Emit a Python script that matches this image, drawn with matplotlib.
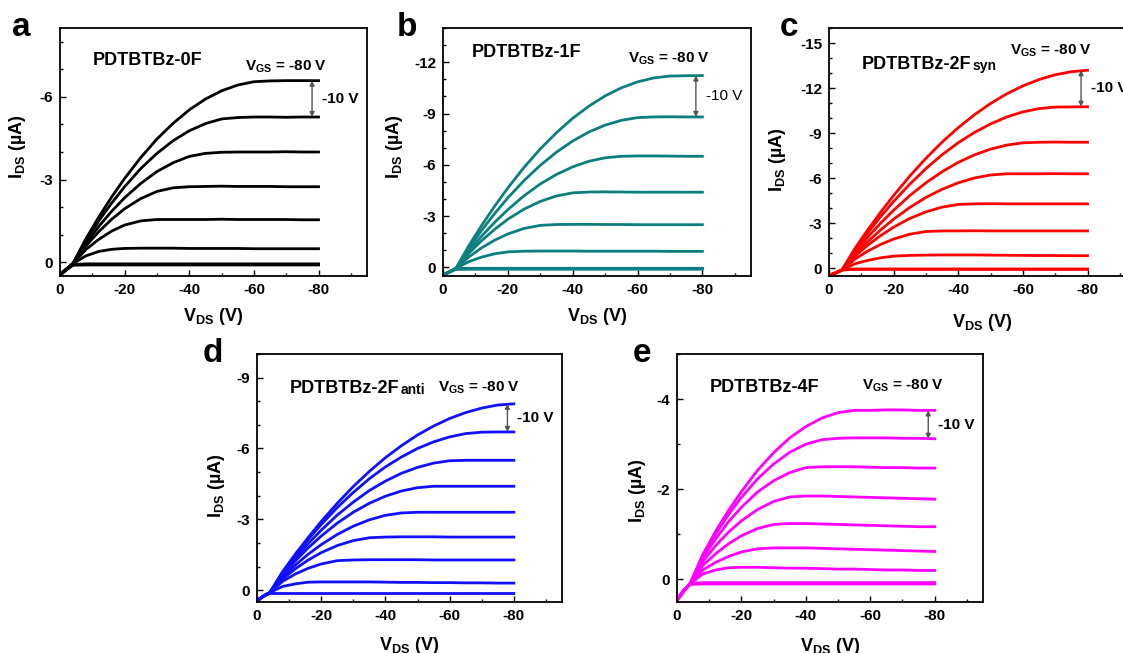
import matplotlib
matplotlib.use("Agg")
import matplotlib.pyplot as plt
from matplotlib.ticker import MultipleLocator

plt.rcParams["font.family"] = ["Liberation Sans", "DejaVu Sans"]
plt.rcParams["font.weight"] = "bold"
plt.rcParams["axes.labelweight"] = "bold"
plt.rcParams["axes.unicode_minus"] = False
plt.rcParams["mathtext.fontset"] = "custom"
plt.rcParams["mathtext.bf"] = "Liberation Sans:bold"
plt.rcParams["mathtext.rm"] = "Liberation Sans:bold"
plt.rcParams["mathtext.default"] = "bf"

# drain sweep shared by every output curve (V)
v_ds = [0, -2, -4, -8, -12, -16, -20, -25, -30, -35, -40, -45, -50, -55, -60, -65, -70, -75, -80]

# I_DS (uA) for V_GS = -80 V down to 0 V, step 10 V
i_0f = [
    [0.45, 0.25, 0.05, -0.85, -1.64, -2.37, -3.04, -3.80, -4.47, -5.04, -5.53, -5.92, -6.22, -6.43, -6.55, -6.58, -6.59, -6.59, -6.59],
    [0.45, 0.25, 0.05, -0.78, -1.50, -2.15, -2.74, -3.40, -3.95, -4.41, -4.77, -5.03, -5.20, -5.25, -5.27, -5.27, -5.26, -5.27, -5.27],
    [0.45, 0.25, 0.05, -0.68, -1.30, -1.85, -2.34, -2.86, -3.29, -3.61, -3.84, -3.95, -3.99, -4.00, -4.00, -4.00, -4.01, -4.00, -4.00],
    [0.45, 0.25, 0.05, -0.59, -1.11, -1.56, -1.94, -2.31, -2.57, -2.70, -2.74, -2.75, -2.76, -2.75, -2.75, -2.75, -2.74, -2.74, -2.74],
    [0.45, 0.25, 0.05, -0.46, -0.83, -1.13, -1.35, -1.50, -1.55, -1.55, -1.55, -1.55, -1.56, -1.55, -1.55, -1.55, -1.55, -1.54, -1.54],
    [0.45, 0.25, 0.05, -0.23, -0.39, -0.47, -0.50, -0.51, -0.51, -0.51, -0.50, -0.50, -0.50, -0.50, -0.49, -0.49, -0.49, -0.49, -0.49],
    [0.45, 0.25, 0.08, 0.06, 0.06, 0.06, 0.06, 0.06, 0.06, 0.06, 0.06, 0.06, 0.06, 0.06, 0.06, 0.06, 0.06, 0.06, 0.06],
    [0.47, 0.27, 0.09, 0.08, 0.08, 0.08, 0.08, 0.08, 0.08, 0.08, 0.08, 0.08, 0.08, 0.08, 0.08, 0.08, 0.08, 0.08, 0.08],
    [0.48, 0.28, 0.11, 0.10, 0.10, 0.10, 0.10, 0.10, 0.10, 0.10, 0.10, 0.10, 0.10, 0.10, 0.10, 0.10, 0.10, 0.10, 0.10],
]

i_1f = [
    [0.45, 0.25, 0.05, -1.28, -2.48, -3.60, -4.65, -5.85, -6.93, -7.88, -8.72, -9.43, -10.03, -10.50, -10.85, -11.08, -11.19, -11.21, -11.22],
    [0.45, 0.25, 0.05, -1.13, -2.19, -3.17, -4.07, -5.08, -5.97, -6.74, -7.39, -7.92, -8.32, -8.60, -8.76, -8.80, -8.81, -8.80, -8.80],
    [0.45, 0.25, 0.05, -0.96, -1.85, -2.65, -3.38, -4.19, -4.88, -5.44, -5.88, -6.21, -6.41, -6.50, -6.52, -6.52, -6.51, -6.50, -6.50],
    [0.45, 0.25, 0.05, -0.84, -1.58, -2.24, -2.82, -3.41, -3.86, -4.18, -4.36, -4.41, -4.42, -4.41, -4.40, -4.40, -4.40, -4.40, -4.40],
    [0.45, 0.25, 0.05, -0.62, -1.16, -1.60, -1.96, -2.28, -2.46, -2.51, -2.52, -2.52, -2.51, -2.51, -2.50, -2.50, -2.50, -2.50, -2.50],
    [0.45, 0.25, 0.05, -0.34, -0.61, -0.80, -0.91, -0.95, -0.96, -0.96, -0.96, -0.95, -0.95, -0.95, -0.95, -0.95, -0.94, -0.94, -0.94],
    [0.45, 0.25, 0.06, 0.05, 0.05, 0.05, 0.05, 0.05, 0.05, 0.05, 0.05, 0.05, 0.05, 0.05, 0.05, 0.05, 0.05, 0.05, 0.05],
    [0.47, 0.27, 0.09, 0.08, 0.08, 0.08, 0.08, 0.08, 0.08, 0.08, 0.08, 0.08, 0.08, 0.08, 0.08, 0.08, 0.08, 0.08, 0.08],
    [0.48, 0.28, 0.11, 0.10, 0.10, 0.10, 0.10, 0.10, 0.10, 0.10, 0.10, 0.10, 0.10, 0.10, 0.10, 0.10, 0.10, 0.10, 0.10],
]

i_2f_syn = [
    [0.45, 0.30, 0.10, -1.32, -2.57, -3.75, -4.86, -6.15, -7.33, -8.41, -9.37, -10.23, -10.98, -11.62, -12.15, -12.57, -12.89, -13.09, -13.19],
    [0.45, 0.30, 0.10, -1.23, -2.38, -3.46, -4.46, -5.61, -6.65, -7.57, -8.37, -9.05, -9.62, -10.08, -10.42, -10.64, -10.74, -10.75, -10.76],
    [0.45, 0.30, 0.10, -1.08, -2.09, -3.02, -3.88, -4.85, -5.70, -6.44, -7.06, -7.56, -7.94, -8.21, -8.36, -8.40, -8.41, -8.40, -8.40],
    [0.45, 0.30, 0.10, -0.93, -1.79, -2.57, -3.28, -4.06, -4.73, -5.27, -5.70, -6.02, -6.22, -6.30, -6.30, -6.30, -6.31, -6.30, -6.30],
    [0.45, 0.30, 0.10, -0.82, -1.55, -2.19, -2.75, -3.33, -3.77, -4.08, -4.26, -4.30, -4.31, -4.30, -4.30, -4.30, -4.30, -4.30, -4.30],
    [0.45, 0.30, 0.10, -0.62, -1.16, -1.60, -1.96, -2.28, -2.46, -2.50, -2.50, -2.51, -2.50, -2.50, -2.50, -2.50, -2.50, -2.50, -2.50],
    [0.45, 0.30, 0.10, -0.31, -0.54, -0.71, -0.82, -0.87, -0.89, -0.90, -0.90, -0.90, -0.89, -0.88, -0.87, -0.86, -0.86, -0.85, -0.85],
    [0.46, 0.31, 0.08, 0.03, 0.03, 0.03, 0.03, 0.03, 0.03, 0.03, 0.03, 0.03, 0.03, 0.03, 0.03, 0.03, 0.03, 0.03, 0.03],
    [0.48, 0.33, 0.10, 0.06, 0.06, 0.06, 0.06, 0.06, 0.06, 0.06, 0.06, 0.06, 0.06, 0.06, 0.06, 0.06, 0.06, 0.06, 0.06],
]

i_2f_anti = [
    [0.45, 0.25, 0.10, -0.79, -1.54, -2.24, -2.91, -3.68, -4.39, -5.03, -5.61, -6.12, -6.57, -6.95, -7.27, -7.52, -7.71, -7.84, -7.89],
    [0.45, 0.25, 0.10, -0.77, -1.48, -2.16, -2.78, -3.50, -4.14, -4.72, -5.22, -5.64, -6.00, -6.28, -6.49, -6.63, -6.69, -6.70, -6.70],
    [0.45, 0.25, 0.10, -0.71, -1.37, -1.98, -2.54, -3.18, -3.73, -4.22, -4.62, -4.95, -5.20, -5.38, -5.48, -5.50, -5.50, -5.50, -5.50],
    [0.45, 0.25, 0.10, -0.65, -1.25, -1.80, -2.29, -2.84, -3.30, -3.68, -3.98, -4.20, -4.34, -4.40, -4.40, -4.40, -4.40, -4.40, -4.40],
    [0.45, 0.25, 0.10, -0.56, -1.07, -1.53, -1.93, -2.36, -2.71, -2.98, -3.17, -3.27, -3.30, -3.30, -3.30, -3.30, -3.30, -3.30, -3.30],
    [0.45, 0.25, 0.10, -0.48, -0.91, -1.28, -1.59, -1.89, -2.10, -2.22, -2.25, -2.26, -2.26, -2.26, -2.25, -2.25, -2.25, -2.25, -2.25],
    [0.45, 0.25, 0.10, -0.38, -0.69, -0.93, -1.11, -1.25, -1.28, -1.29, -1.29, -1.29, -1.29, -1.28, -1.28, -1.28, -1.28, -1.28, -1.28],
    [0.45, 0.25, 0.10, -0.16, -0.27, -0.34, -0.35, -0.35, -0.35, -0.35, -0.34, -0.33, -0.33, -0.32, -0.32, -0.31, -0.31, -0.30, -0.30],
    [0.47, 0.27, 0.14, 0.14, 0.14, 0.14, 0.14, 0.14, 0.14, 0.14, 0.14, 0.14, 0.14, 0.14, 0.14, 0.14, 0.14, 0.14, 0.14],
]

i_4f = [
    [0.45, 0.25, 0.10, -0.55, -1.07, -1.53, -1.95, -2.42, -2.81, -3.14, -3.39, -3.58, -3.70, -3.75, -3.75, -3.76, -3.76, -3.75, -3.75],
    [0.45, 0.25, 0.10, -0.53, -1.01, -1.44, -1.82, -2.23, -2.56, -2.82, -3.00, -3.10, -3.13, -3.14, -3.14, -3.14, -3.13, -3.13, -3.12],
    [0.45, 0.25, 0.10, -0.48, -0.90, -1.28, -1.60, -1.94, -2.19, -2.37, -2.48, -2.50, -2.50, -2.50, -2.49, -2.48, -2.48, -2.47, -2.47],
    [0.45, 0.25, 0.10, -0.40, -0.75, -1.05, -1.30, -1.55, -1.73, -1.83, -1.85, -1.85, -1.84, -1.83, -1.82, -1.81, -1.80, -1.79, -1.78],
    [0.45, 0.25, 0.10, -0.31, -0.57, -0.79, -0.97, -1.13, -1.22, -1.24, -1.24, -1.23, -1.22, -1.21, -1.20, -1.19, -1.18, -1.17, -1.17],
    [0.45, 0.25, 0.10, -0.21, -0.38, -0.51, -0.61, -0.68, -0.70, -0.70, -0.70, -0.69, -0.68, -0.67, -0.66, -0.65, -0.64, -0.63, -0.62],
    [0.45, 0.25, 0.10, -0.12, -0.21, -0.26, -0.27, -0.27, -0.26, -0.25, -0.25, -0.24, -0.23, -0.23, -0.22, -0.21, -0.21, -0.20, -0.20],
    [0.46, 0.26, 0.09, 0.07, 0.07, 0.07, 0.07, 0.07, 0.07, 0.07, 0.07, 0.07, 0.07, 0.07, 0.07, 0.07, 0.07, 0.07, 0.07],
    [0.48, 0.28, 0.11, 0.10, 0.10, 0.10, 0.10, 0.10, 0.10, 0.10, 0.10, 0.10, 0.10, 0.10, 0.10, 0.10, 0.10, 0.10, 0.10],
]

W, H = 1123, 653
fig = plt.figure(figsize=(W / 100, H / 100), dpi=100)


def axes_px(left, top, right, bottom):
    return fig.add_axes([left / W, 1 - bottom / H, (right - left) / W, (bottom - top) / H])


def draw_panel(ax, curves, color, ytop, ystep, name, sub, title_xy, vgs_xy,
               ylab_xy, xlab_y, thin_step=False):
    for cur in curves:
        ax.plot(v_ds, cur, color=color, lw=2.0, solid_joinstyle="round")
    ax.set_xlim(0, -95)
    ax.set_ylim(0.5, ytop)
    ax.xaxis.set_major_locator(MultipleLocator(20))
    ax.xaxis.set_minor_locator(MultipleLocator(10))
    ax.yaxis.set_major_locator(MultipleLocator(ystep))
    ax.yaxis.set_minor_locator(MultipleLocator(1))
    ax.tick_params(which="both", direction="in", top=False, right=False, width=1.0)
    ax.tick_params(which="major", length=4, labelsize=11)
    ax.tick_params(which="minor", length=2.5)
    ax.tick_params(axis="x", pad=5)
    ax.tick_params(axis="y", pad=5)
    for lab in ax.get_xticklabels() + ax.get_yticklabels():
        lab.set_fontweight("bold")
    for sp in ax.spines.values():
        sp.set_linewidth(1.3)

    ax.set_xlabel(r"V$_{DS}$ (V)", fontsize=13, fontweight="bold")
    ax.set_ylabel(r"I$_{DS}$ (µA)", fontsize=13, fontweight="bold")
    ax.xaxis.set_label_coords(0.5, xlab_y)
    ax.yaxis.set_label_coords(*ylab_xy)

    t = ax.text(*title_xy, name, transform=ax.transAxes, fontsize=13,
                va="baseline", ha="left")
    if sub:
        ax.annotate(sub, xy=(1, 0), xycoords=t, xytext=(1, 2.3),
                    textcoords="offset points", fontsize=10, va="baseline", ha="left")
    ax.text(*vgs_xy, r"V$_{GS}$ = -80 V", transform=ax.transAxes, fontsize=11,
            va="baseline", ha="left")

    # gate step marker between the two highest curves
    y_hi, y_lo = curves[0][-1], curves[1][-1]
    ax.annotate("", xy=(-78, y_hi), xytext=(-78, y_lo),
                arrowprops=dict(arrowstyle="<|-|>", color="#555555", lw=1.0,
                                mutation_scale=7, shrinkA=0, shrinkB=0))
    ax.text(-81, (y_hi + y_lo) / 2, "-10 V", fontsize=11, va="center", ha="left",
            fontweight="normal" if thin_step else "bold")


ax_a = axes_px(60, 28, 367, 276)
draw_panel(ax_a, i_0f, "black", -8.5, 3, "PDTBTBz-0F", None, (0.107, 0.851),
           (0.603, 0.83), (-0.104, 0.52), -0.12)

ax_b = axes_px(443, 28, 751, 276)
draw_panel(ax_b, i_1f, "#0b7f7f", -14, 3, "PDTBTBz-1F", None, (0.094, 0.883),
           (0.60, 0.859), (-0.123, 0.52), -0.12, thin_step=True)

ax_c = axes_px(829, 28, 1136, 276)
draw_panel(ax_c, i_2f_syn, "#ff0000", -16, 3, "PDTBTBz-2F", "syn", (0.107, 0.835),
           (0.59, 0.891), (-0.134, 0.47), -0.145)

ax_d = axes_px(257, 354, 562, 602)
draw_panel(ax_d, i_2f_anti, "#1010ff", -10, 3, "PDTBTBz-2F", "anti", (0.108, 0.843),
           (0.593, 0.847), (-0.098, 0.47), -0.133)

ax_e = axes_px(677, 354, 983, 602)
draw_panel(ax_e, i_4f, "#ff00ff", -5, 2, "PDTBTBz-4F", None, (0.108, 0.847),
           (0.605, 0.855), (-0.095, 0.45), -0.137)

for letter, (x, y) in zip("abcde", [(12, 36), (397, 36), (780, 36), (203, 362), (633, 362)]):
    fig.text(x / W, 1 - y / H, letter, fontsize=24, fontweight="bold", va="baseline")

fig.savefig("out.png", dpi=100)
